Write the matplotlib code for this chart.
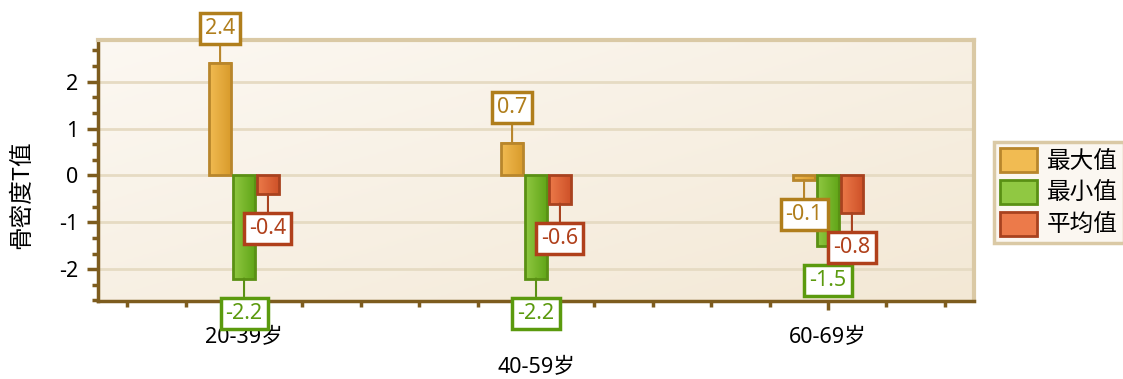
import numpy as np
import matplotlib
matplotlib.use('Agg')
import matplotlib.pyplot as plt
from matplotlib.colors import LinearSegmentedColormap, to_rgb
from matplotlib.patches import Patch
from matplotlib.ticker import MultipleLocator, FixedLocator

groups = ['20-39岁', '40-59岁', '60-69岁']
series = ['最大值', '最小值', '平均值']
max_vals = [2.4, 0.7, -0.1]
min_vals = [-2.2, -2.2, -1.5]
mean_vals = [-0.4, -0.6, -0.8]

# light, dark, edge, label colour for each series
styles = [
    ('#f1bb52', '#d89a2a', '#b8862c', '#b07e1c'),
    ('#90c842', '#5fa416', '#5a9014', '#5b9a0e'),
    ('#ec7a4a', '#cd5027', '#a8421f', '#b0401b'),
]

plt.rcParams['font.family'] = ['Noto Sans', 'Noto Sans CJK SC', 'DejaVu Sans']
plt.rcParams['axes.unicode_minus'] = False

fig = plt.figure(figsize=(11.23, 3.79), dpi=100)
ax = fig.add_axes([0.0873, 0.2058, 0.78, 0.6887])

ymin, ymax = -2.68, 2.89
xmin, xmax = -0.5, 2.5

# soft diagonal background
yy, xx = np.mgrid[0:1:100j, 0:1:100j]
t = ((xx + yy) / 2)[..., None]
c0 = np.array(to_rgb('#fcf8f2'))
c1 = np.array(to_rgb('#f3e8d5'))
ax.imshow(c0 + (c1 - c0) * t, extent=[xmin, xmax, ymin, ymax],
          aspect='auto', origin='upper', zorder=0)

width = 0.077
step = 0.082
x = np.arange(len(groups))
for i, (vals, st) in enumerate(zip([max_vals, min_vals, mean_vals], styles)):
    light, dark, edge, lab = st
    xs = x + (i - 1) * step
    bars = ax.bar(xs, vals, width, facecolor='none', edgecolor=edge,
                  linewidth=2, zorder=3)
    cmap = LinearSegmentedColormap.from_list('g%d' % i, [light, dark])
    grad = np.linspace(0, 1, 64).reshape(1, -1)
    for b, v in zip(bars, vals):
        ax.imshow(grad, cmap=cmap, aspect='auto', zorder=2,
                  extent=[b.get_x(), b.get_x() + b.get_width(), min(0, v), max(0, v)])
    for xv, v in zip(xs, vals):
        ax.annotate('%.1f' % v, xy=(xv, v), xytext=(0, 25 if v >= 0 else -25),
                    textcoords='offset points', ha='center', va='center',
                    fontsize=15.5, color=lab, zorder=6, annotation_clip=False,
                    bbox=dict(boxstyle='square,pad=0.23', fc='white', ec=lab, lw=2.5),
                    arrowprops=dict(arrowstyle='-', color=edge, lw=1.5,
                                    shrinkA=0, shrinkB=0))

ax.set_xlim(xmin, xmax)
ax.set_ylim(ymin, ymax)

ax.set_yticks([-2, -1, 0, 1, 2])
ax.yaxis.set_minor_locator(MultipleLocator(1 / 3))
ax.yaxis.grid(True, color='#e6dbc3', lw=2)
ax.set_axisbelow(True)

ax.set_xticks(x)
ax.set_xticklabels(groups)
ax.xaxis.set_minor_locator(FixedLocator(np.arange(-0.4, 2.45, 0.2)))

axis_col = '#7d5c1e'
ax.tick_params(axis='y', which='major', length=8, width=2.5, color=axis_col,
               labelsize=15.5, pad=6)
ax.tick_params(axis='y', which='minor', length=4, width=2.5, color=axis_col)
ax.tick_params(axis='x', which='major', length=6.5, width=2.5, color=axis_col,
               labelsize=15.5)
ax.tick_params(axis='x', which='minor', length=4.5, width=2.5, color=axis_col)

for side in ['left', 'bottom']:
    ax.spines[side].set_color(axis_col)
    ax.spines[side].set_linewidth(2.5)
for side in ['top', 'right']:
    ax.spines[side].set_color('#dac9a5')
    ax.spines[side].set_linewidth(3)

# stagger the middle category label
for tk, pad in zip(ax.xaxis.get_major_ticks(), [12.5, 34, 12.5]):
    tk.set_pad(pad)

fig.text(0.019, 0.4855, '骨密度T值', rotation=90, ha='center', va='center',
         fontsize=17, family=['Noto Sans CJK SC'])

handles = [Patch(facecolor=st[0], edgecolor=st[2], linewidth=2) for st in styles]
leg = ax.legend(handles, series, loc='upper left', bbox_to_anchor=(0.885, 0.6253),
                bbox_transform=fig.transFigure, borderaxespad=0,
                handleheight=1.19, handlelength=1.57, labelspacing=0.3,
                handletextpad=0.42, borderpad=0.25, fancybox=False,
                prop={'family': ['Noto Sans CJK SC'], 'size': 17})
leg.get_frame().set_edgecolor('#dac9a5')
leg.get_frame().set_facecolor('#fbf7f1')
leg.get_frame().set_linewidth(2.5)
leg.get_frame().set_alpha(1)

fig.savefig('out.png', dpi=100)
